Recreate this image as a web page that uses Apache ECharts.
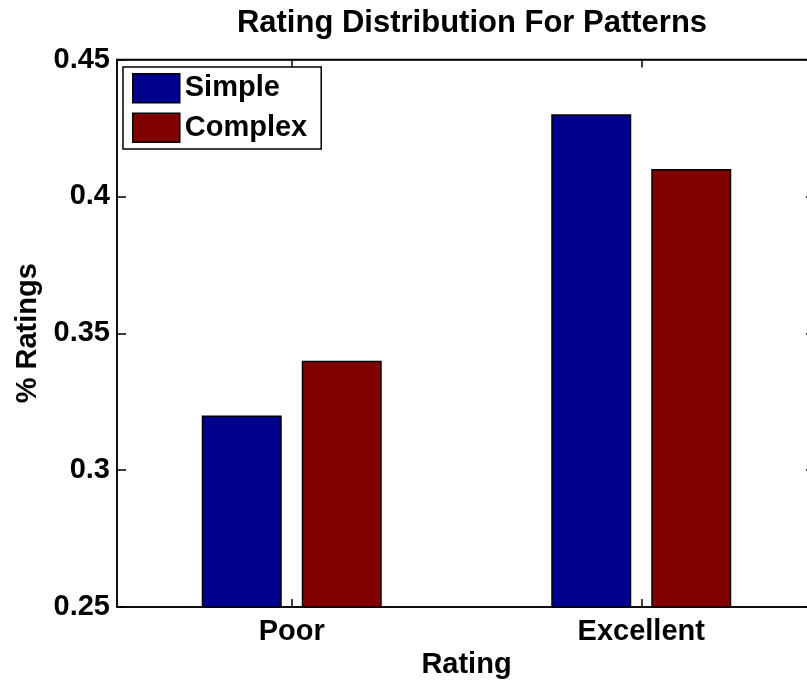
<!DOCTYPE html>
<html>
<head>
<meta charset="utf-8">
<script src="https://cdn.jsdelivr.net/npm/echarts@6/dist/echarts.min.js"></script>
<style>
  html, body { margin: 0; padding: 0; background: #ffffff; }
  #chart { width: 807px; height: 680px; }
</style>
</head>
<body>
<div id="chart"></div>
<script>
// Share of ratings per category for simple vs. complex patterns
const categories = ['Poor', 'Excellent'];
const simpleValues = [0.32, 0.43];
const complexValues = [0.34, 0.41];
const yTicks = [0.25, 0.3, 0.35, 0.4, 0.45];

const FONT = '"Liberation Sans", Arial, Helvetica, sans-serif';
const chart = echarts.init(document.getElementById('chart'));

const axisText = { color: '#000', fontFamily: FONT, fontWeight: 'bold', fontSize: 29 };
const lineStyle = { color: '#000', width: 1.5 };

chart.setOption({
  animation: false,
  backgroundColor: '#ffffff',
  title: {
    text: 'Rating Distribution For Patterns',
    left: 467,
    textAlign: 'center',
    top: 3,
    textStyle: { color: '#000', fontFamily: FONT, fontWeight: 'bold', fontSize: 31 }
  },
  legend: {
    orient: 'vertical',
    left: 123,
    top: 67,
    data: ['Simple', 'Complex'],
    itemWidth: 47,
    itemHeight: 29,
    itemGap: 9,
    padding: [6, 14, 6, 9],
    borderColor: '#000',
    borderWidth: 1.5,
    backgroundColor: '#fff',
    icon: 'rect',
    itemStyle: { borderColor: '#000', borderWidth: 1.5 },
    textStyle: { color: '#000', fontFamily: FONT, fontWeight: 'bold', fontSize: 29, padding: [8, 0, 0, 0] }
  },
  grid: {
    left: 117,
    top: 59.5,
    bottom: 73,
    right: -9,
    outerBoundsMode: 'none',
    show: true,
    borderColor: '#000',
    borderWidth: 1.5,
    backgroundColor: 'transparent',
    containLabel: false
  },
  xAxis: [{
    type: 'category',
    data: categories,
    position: 'bottom',
    name: 'Rating',
    nameLocation: 'middle',
    nameGap: 42,
    nameTextStyle: axisText,
    axisLine: { show: true, lineStyle },
    axisTick: { show: true, inside: true, length: 8, alignWithLabel: true, lineStyle },
    axisLabel: Object.assign({ margin: 10 }, axisText),
    splitLine: { show: false }
  }, {
    type: 'category',
    data: categories,
    position: 'top',
    axisLine: { show: true, lineStyle },
    axisTick: { show: true, inside: true, length: 8, alignWithLabel: true, lineStyle },
    axisLabel: { show: false },
    splitLine: { show: false }
  }],
  yAxis: [{
    type: 'value',
    min: yTicks[0],
    max: yTicks[yTicks.length - 1],
    interval: 0.05,
    position: 'left',
    name: '% Ratings',
    nameLocation: 'middle',
    nameGap: 74,
    nameRotate: 90,
    nameTextStyle: axisText,
    axisLine: { show: true, lineStyle },
    axisTick: { show: true, inside: true, length: 9, lineStyle },
    axisLabel: Object.assign({
      margin: 7,
      formatter: v => {
        const t = yTicks.find(x => Math.abs(x - v) < 1e-9);
        return t === undefined ? '' : String(t);
      }
    }, axisText),
    splitLine: { show: false }
  }, {
    type: 'value',
    min: yTicks[0],
    max: yTicks[yTicks.length - 1],
    interval: 0.05,
    position: 'right',
    axisLine: { show: true, lineStyle },
    axisTick: { show: true, inside: true, length: 10, lineStyle },
    axisLabel: { show: false },
    splitLine: { show: false }
  }],
  series: [{
    name: 'Simple',
    type: 'bar',
    data: simpleValues,
    barWidth: 80,
    barGap: '25%',
    itemStyle: { color: '#00008F', borderColor: '#000', borderWidth: 1.5 }
  }, {
    name: 'Complex',
    type: 'bar',
    data: complexValues,
    barWidth: 80,
    barGap: '25%',
    itemStyle: { color: '#800000', borderColor: '#000', borderWidth: 1.5 }
  }]
});
</script>
</body>
</html>
